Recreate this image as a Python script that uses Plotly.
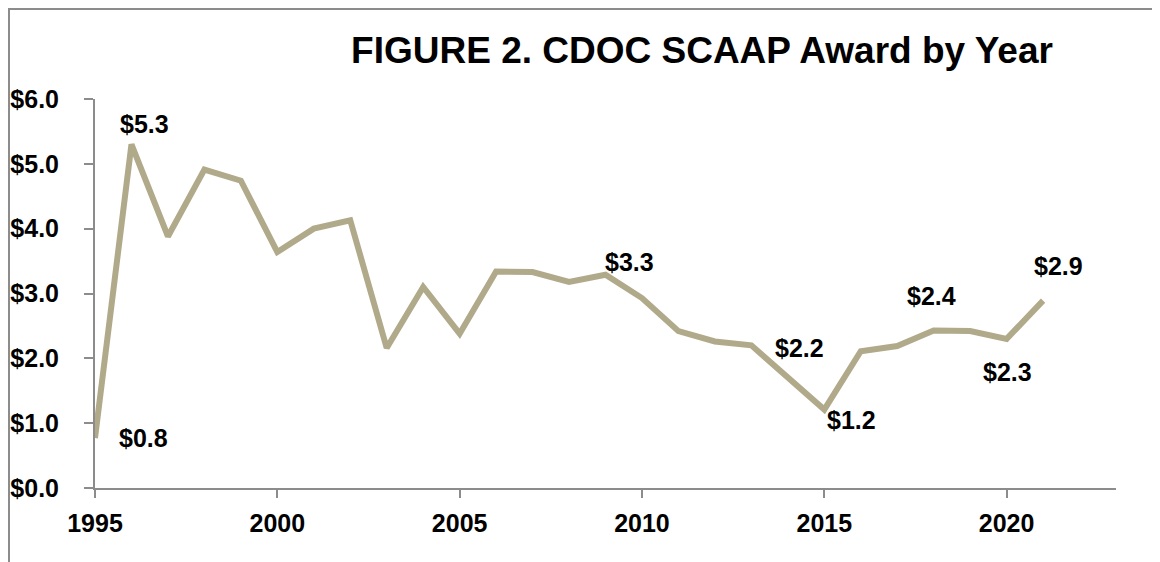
import plotly.graph_objects as go

years = list(range(1995, 2022))
award = [0.77, 5.30, 3.88, 4.91, 4.74, 3.64, 4.00, 4.13, 2.16, 3.10,
         2.38, 3.34, 3.33, 3.18, 3.29, 2.93, 2.42, 2.26, 2.20, 1.72,
         1.21, 2.11, 2.19, 2.43, 2.42, 2.30, 2.89]

label_years = [1995, 1996, 2009, 2013, 2015, 2018, 2020, 2021]
label_text = ["$0.8", "$5.3", "$3.3", "$2.2", "$1.2", "$2.4", "$2.3", "$2.9"]
label_shift = [(48, 0), (13, 20), (24, 13), (48, -3), (27, -10), (-2, 34), (1, -33), (15, 35)]

x_ticks = [1995, 2000, 2005, 2010, 2015, 2020]
x_tick_text = ["1995", "2000", "2005", "2010", "2015", "2020"]
y_ticks = [0, 1, 2, 3, 4, 5, 6]
y_tick_text = ["$0.0", "$1.0", "$2.0", "$3.0", "$4.0", "$5.0", "$6.0"]

FONT = "Liberation Sans, Arial, sans-serif"
GREY = "#8c8c8c"

fig = go.Figure()
fig.add_trace(go.Scatter(
    x=years, y=award, mode="lines",
    line=dict(color="#B0AA8A", width=6),
    hoverinfo="skip", showlegend=False,
))

for yr, txt, (dx, dy) in zip(label_years, label_text, label_shift):
    fig.add_annotation(
        x=yr, y=award[years.index(yr)], xref="x", yref="y",
        text=txt, showarrow=False, xshift=dx, yshift=dy,
        font=dict(family=FONT, size=25, color="black", weight="bold"),
    )

# the page body adds an 8px offset; compensate in the margins
OFF = 8
W, H = 1160, 562
L, T = 95 - OFF, 99 - OFF
pw, ph = 1021, 389
R = W - L - pw
B = H - T - ph

# outer frame
fig.add_shape(type="rect", xref="paper", yref="paper",
              x0=(1 - L) / pw, x1=(W + 20 - L) / pw,
              y0=-(H + 20 - (T + ph)) / ph, y1=(T + ph - 1) / ph,
              line=dict(color=GREY, width=2), fillcolor="rgba(0,0,0,0)", layer="below")

fig.update_layout(
    width=W, height=H,
    margin=dict(l=L, r=R, t=T, b=B, autoexpand=False),
    paper_bgcolor="white", plot_bgcolor="white",
    title=dict(
        text="FIGURE 2. CDOC SCAAP Award by Year",
        x=(702 - OFF - L) / pw, xref="paper", xanchor="center",
        y=1 - (50 - OFF) / H, yref="container", yanchor="middle",
        font=dict(family=FONT, size=37, color="black", weight="bold"),
    ),
    xaxis=dict(
        range=[1995, 2023], tickmode="array", tickvals=x_ticks, ticktext=x_tick_text,
        showgrid=False, zeroline=False, showline=True, linecolor=GREY, linewidth=2,
        ticks="outside", ticklen=8, tickwidth=2, tickcolor=GREY,
        ticklabelstandoff=4,
        tickfont=dict(family=FONT, size=25, color="black", weight="bold"),
    ),
    yaxis=dict(
        range=[0, 6], tickmode="array", tickvals=y_ticks, ticktext=y_tick_text,
        showgrid=False, zeroline=False, showline=True, linecolor=GREY, linewidth=2,
        ticks="outside", ticklen=9, tickwidth=2, tickcolor=GREY,
        ticklabelstandoff=20,
        tickfont=dict(family=FONT, size=25, color="black", weight="bold"),
    ),
)

fig.write_html("out.html")
